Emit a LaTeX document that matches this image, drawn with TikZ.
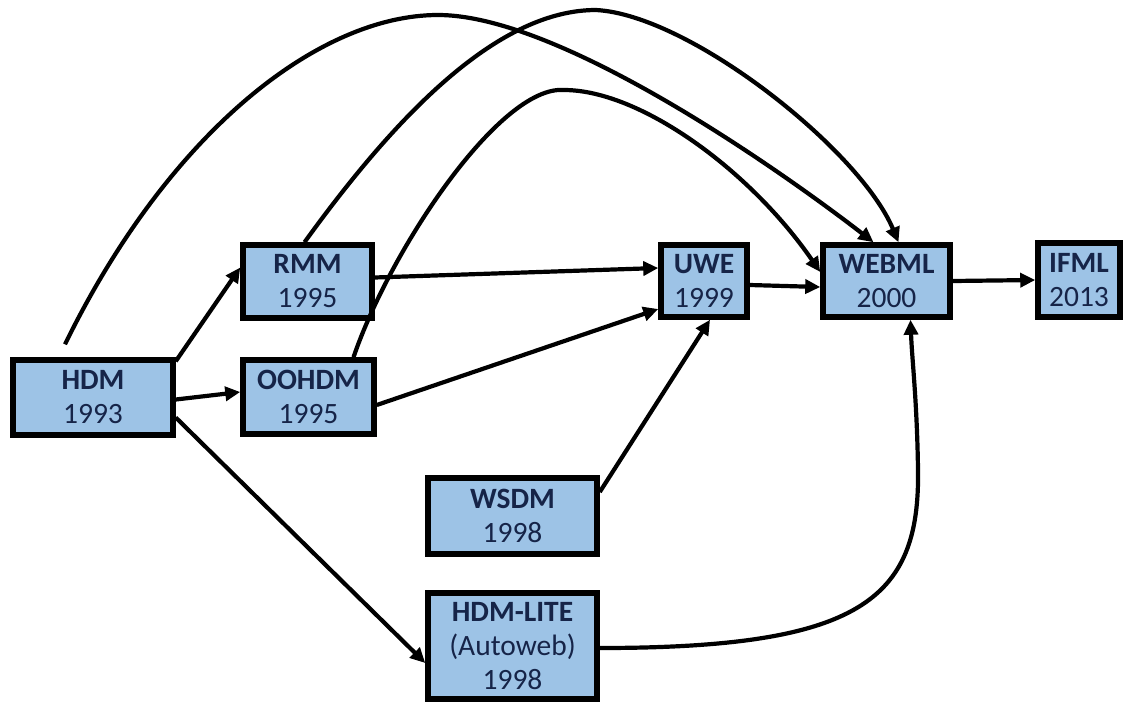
\documentclass[tikz,border=0pt]{standalone}
\usepackage{fontspec}
\setmainfont{Carlito}
\usetikzlibrary{arrows.meta,calc}
\definecolor{boxfill}{RGB}{157,195,230}
\definecolor{boxtext}{RGB}{22,36,72}
\tikzset{
  mbox/.style={draw=black, line width=5.5pt, fill=boxfill, text=boxtext,
    align=center, inner sep=0pt, font=\fontsize{29.5}{34}\selectfont},
  conn/.style={line width=4.2pt, -{Triangle[length=15pt,width=14pt]}},
}
\begin{document}
\begin{tikzpicture}[x=1pt,y=-1pt]
\path[use as bounding box] (0,0) rectangle (1126,702);
\node[mbox, minimum width=160pt, minimum height=75pt] (hdm) at (93,397.5) {\textbf{HDM}\\1993};
\node[mbox, minimum width=129pt, minimum height=73pt] (rmm) at (307.5,281.5) {\textbf{RMM}\\1995};
\node[mbox, minimum width=131pt, minimum height=74pt] (oohdm) at (308.5,397) {\textbf{OOHDM}\\1995};
\node[mbox, minimum width=86pt, minimum height=72pt] (uwe) at (704,281) {\textbf{UWE}\\1999};
\node[mbox, minimum width=127pt, minimum height=72pt] (webml) at (886.5,281) {\textbf{WEBML}\\2000};
\node[mbox, minimum width=82pt, minimum height=74pt] (ifml) at (1079,280) {\textbf{IFML}\\2013};
\node[mbox, minimum width=169pt, minimum height=76pt] (wsdm) at (512.5,516) {\textbf{WSDM}\\1998};
\node[mbox, minimum width=169pt, minimum height=106pt] (hdmlite) at (512.5,646) {\textbf{HDM-LITE}\\(Autoweb)\\1998};

% straight connectors
\draw[conn] ($(hdm.north east)+(0,4)$) -- ($(rmm.west)+(0,-14)$);
\draw[conn] ($(hdm.east)+(0,2)$) -- ($(oohdm.west)+(0,-5)$);
\draw[conn] ($(hdm.east)+(0,20)$) -- ($(hdmlite.west)+(0,17)$);
\draw[conn] ($(rmm.east)+(0,-4)$) -- ($(uwe.west)+(0,-13)$);
\draw[conn] ($(oohdm.east)+(0,8)$) -- ($(uwe.west)+(0,28)$);
\draw[conn] ($(wsdm.east)+(0,-24)$) -- ($(uwe.south)+(6,0)$);
\draw[conn] ($(uwe.east)+(0,4)$) -- ($(webml.west)+(0,6)$);
\draw[conn] (webml.east) -- (ifml.west);

% HDM-LITE -> WEBML
\draw[conn] ($(hdmlite.east)+(0,2)$) .. controls (860,648) and (920,600) .. (918,470)
  .. controls (917,400) and (912,360) .. ($(webml.south)+(24,0)$);

% big arcs
\draw[conn] ($(hdm.north)+(-28,-13)$) .. controls (170,130) and (320,15) .. (438,15)
  .. controls (560,15) and (780,170) .. ($(webml.north)+(-13,0)$);
\draw[conn] ($(rmm.north)+(-3,0)$) .. controls (400,110) and (500,10) .. (596,10)
  .. controls (690,15) and (860,150) .. ($(webml.north)+(12,0)$);
\draw[conn] ($(oohdm.north)+(45,0)$) .. controls (390,250) and (500,85) .. (564,90)
  .. controls (640,90) and (750,170) .. ($(webml.west)+(0,-9)$);
\end{tikzpicture}
\end{document}
